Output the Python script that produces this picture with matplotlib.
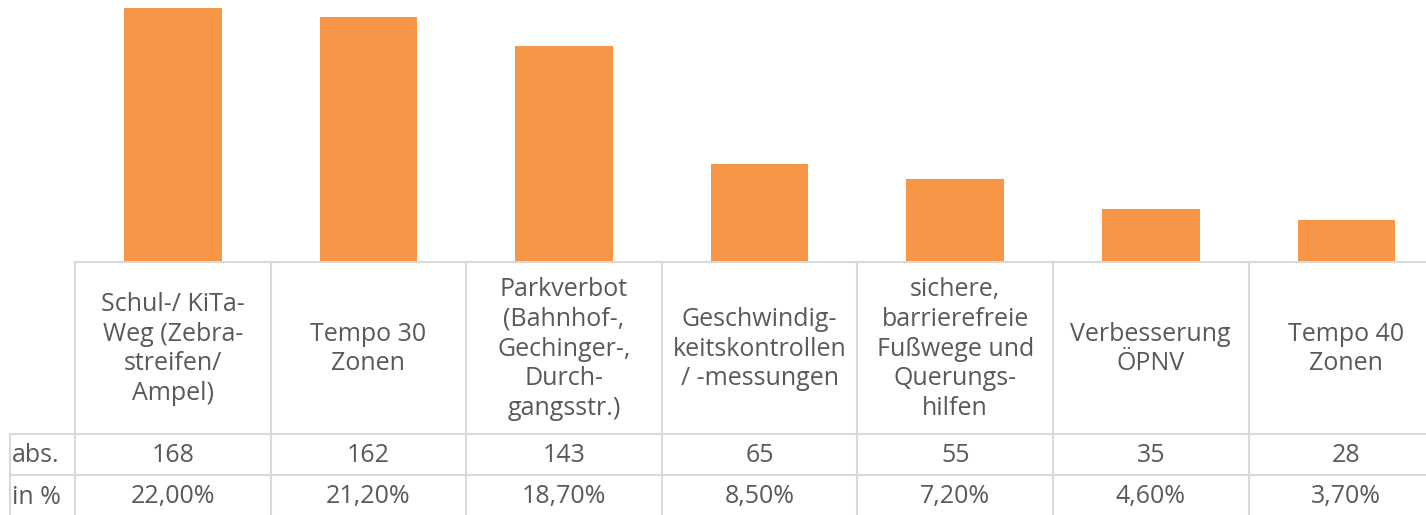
import matplotlib
matplotlib.use("Agg")
import matplotlib.pyplot as plt

categories = [
    "Schul-/ KiTa-\nWeg (Zebra-\nstreifen/\nAmpel)",
    "Tempo 30\nZonen",
    "Parkverbot\n(Bahnhof-,\nGechinger-,\nDurch-\ngangsstr.)",
    "Geschwindig-\nkeitskontrollen\n/ -messungen",
    "sichere,\nbarrierefreie\nFußwege und\nQuerungs-\nhilfen",
    "Verbesserung\nÖPNV",
    "Tempo 40\nZonen",
]
abs_values = [168, 162, 143, 65, 55, 35, 28]
pct_values = [22.00, 21.20, 18.70, 8.50, 7.20, 4.60, 3.70]
row_labels = ["abs.", "in %"]

W, H = 1426, 515
DPI = 100
BAR_C = "#F79646"
TXT_C = "#595959"
LINE_C = "#D9D9D9"
FONT = ["Open Sans", "DejaVu Sans"]
FS = 18
WT = "normal"

# pixel layout
x0_px = 75.0
col_px = 195.6
base_px = 262.0
hdr_bot = 434.0
abs_bot = 475.0
left_px = 10.0

def px2x(px):
    return (px - x0_px) / col_px - 0.5

fig = plt.figure(figsize=(W / DPI, H / DPI), dpi=DPI)
xl = (px2x(0), px2x(W))

# bar axes
ax = fig.add_axes([0, 1 - base_px / H, 1, base_px / H])
ax.bar(range(len(abs_values)), abs_values, width=0.5, color=BAR_C)
ax.set_xlim(*xl)
ax.set_ylim(0, 168 * base_px / (base_px - 8))
ax.axis("off")

# table axes, y in pixels (top = base_px)
tx = fig.add_axes([0, 0, 1, 1 - base_px / H])
tx.set_xlim(*xl)
tx.set_ylim(H, base_px)
tx.axis("off")

lw = 1.5
n = len(categories)
tx.plot([px2x(x0_px), xl[1]], [base_px, base_px], color=LINE_C, lw=lw, clip_on=False)
for y in (hdr_bot, abs_bot):
    tx.plot([px2x(left_px), xl[1]], [y, y], color=LINE_C, lw=lw, clip_on=False)
tx.plot([px2x(left_px)] * 2, [hdr_bot, H], color=LINE_C, lw=lw, clip_on=False)
for i in range(n + 1):
    xb = i - 0.5
    tx.plot([xb, xb], [base_px, H], color=LINE_C, lw=lw, clip_on=False)

for i, cat in enumerate(categories):
    tx.text(i, (base_px + hdr_bot) / 2 + 1, cat, ha="center", va="center",
            color=TXT_C, fontsize=FS, family=FONT, weight=WT, linespacing=1.24)
    tx.text(i, (hdr_bot + abs_bot) / 2 + 1, str(abs_values[i]), ha="center",
            va="center", color=TXT_C, fontsize=FS, family=FONT, weight=WT)
    tx.text(i, (abs_bot + H) / 2 + 2, f"{pct_values[i]:.2f}%".replace(".", ","),
            ha="center", va="center", color=TXT_C, fontsize=FS, family=FONT, weight=WT)

tx.text(px2x(left_px + 2), (hdr_bot + abs_bot) / 2 + 1, row_labels[0], ha="left",
        va="center", color=TXT_C, fontsize=FS, family=FONT, weight=WT)
tx.text(px2x(left_px + 2), (abs_bot + H) / 2 + 2, row_labels[1], ha="left",
        va="center", color=TXT_C, fontsize=FS, family=FONT, weight=WT)

fig.savefig("out.png", dpi=DPI)
